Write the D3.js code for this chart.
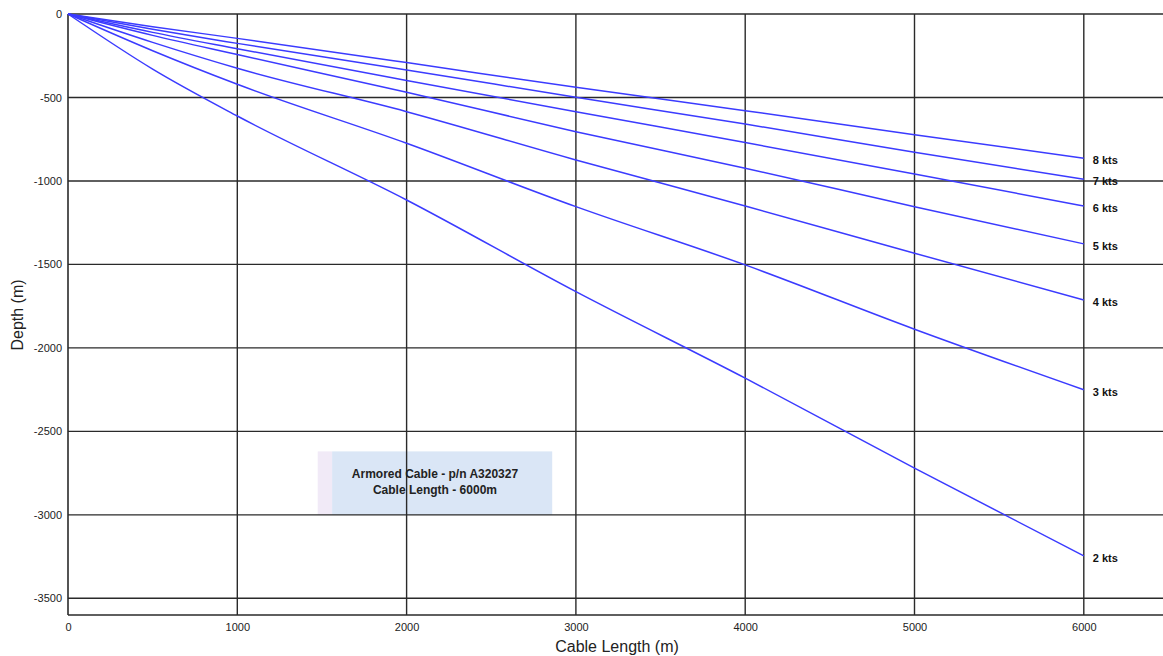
<!DOCTYPE html>
<html>
<head>
<meta charset="utf-8">
<script src="https://cdn.jsdelivr.net/npm/d3@7"></script>
<style>
  html, body { margin: 0; padding: 0; background: #fff; }
  svg { display: block; font-family: "Liberation Sans", Arial, Helvetica, sans-serif; }
</style>
</head>
<body>
<svg id="chart" width="1163" height="656"></svg>
<script>
// ---- data ----
const cableLength = [0, 500, 1000, 2000, 3000, 4000, 5000, 6000];
const depth8kts = [0, -76, -146, -291, -439, -579, -723, -864];
const depth7kts = [0, -92, -176, -335, -499, -659, -828, -990];
const depth6kts = [0, -110, -208, -398, -585, -770, -958, -1150];
const depth5kts = [0, -128, -243, -469, -705, -924, -1154, -1377];
const depth4kts = [0, -170, -325, -585, -874, -1150, -1433, -1713];
const depth3kts = [0, -220, -421, -774, -1154, -1503, -1888, -2251];
const depth2kts = [0, -330, -611, -1114, -1663, -2181, -2720, -3246];
const seriesNames = ["8 kts", "7 kts", "6 kts", "5 kts", "4 kts", "3 kts", "2 kts"];
const xTicks = [0, 1000, 2000, 3000, 4000, 5000, 6000];
const yTicks = [0, -500, -1000, -1500, -2000, -2500, -3000, -3500];
const noteLines = ["Armored Cable - p/n A320327", "Cable Length - 6000m"];
const noteBox = { x0: 1475, xb: 1560, x1: 2860, y0: -2620, y1: -3000 };

const seriesValues = [depth8kts, depth7kts, depth6kts, depth5kts, depth4kts, depth3kts, depth2kts];
const series = seriesNames.map((name, i) => ({
  name,
  points: cableLength.map((x, j) => ({ x, y: seriesValues[i][j] }))
}));

// ---- layout ----
const svg = d3.select("#chart");
const padLeft = 68, padTop = 14, plotBottom = 615, plotRight = 1163;
const x = d3.scaleLinear().domain([0, 6500]).range([padLeft, padLeft + 6.5 * 169.3]);
const y = d3.scaleLinear().domain([0, -3600]).range([padTop, plotBottom]);

// note box (behind grid)
svg.append("rect")
  .attr("x", x(noteBox.x0)).attr("y", y(noteBox.y0))
  .attr("width", x(noteBox.xb) - x(noteBox.x0)).attr("height", y(noteBox.y1) - y(noteBox.y0))
  .attr("fill", "#f1eaf7");
svg.append("rect")
  .attr("x", x(noteBox.xb)).attr("y", y(noteBox.y0))
  .attr("width", x(noteBox.x1) - x(noteBox.xb))
  .attr("height", y(noteBox.y1) - y(noteBox.y0))
  .attr("fill", "#dae6f6");

// grid
const gridColor = "#2a2a2a";
svg.append("g").selectAll("line").data(xTicks.filter(d => d > 0)).join("line")
  .attr("x1", d => x(d)).attr("x2", d => x(d))
  .attr("y1", padTop).attr("y2", plotBottom)
  .attr("stroke", gridColor).attr("stroke-width", 1.4);
svg.append("g").selectAll("line").data(yTicks.filter(d => d < 0)).join("line")
  .attr("x1", padLeft).attr("x2", plotRight)
  .attr("y1", d => y(d)).attr("y2", d => y(d))
  .attr("stroke", gridColor).attr("stroke-width", 1.4);

// frame
svg.append("line").attr("x1", padLeft).attr("x2", plotRight).attr("y1", padTop).attr("y2", padTop)
  .attr("stroke", gridColor).attr("stroke-width", 1.6);
svg.append("line").attr("x1", padLeft).attr("x2", plotRight).attr("y1", plotBottom).attr("y2", plotBottom)
  .attr("stroke", gridColor).attr("stroke-width", 1.6);
svg.append("line").attr("x1", padLeft).attr("x2", padLeft).attr("y1", padTop).attr("y2", plotBottom)
  .attr("stroke", gridColor).attr("stroke-width", 1.6);

// axes (labels only)
const fmt = d => String(d);
const xAxis = svg.append("g").attr("transform", `translate(0,${plotBottom})`)
  .call(d3.axisBottom(x).tickValues(xTicks).tickSize(0).tickPadding(8).tickFormat(fmt));
xAxis.select(".domain").remove();
xAxis.selectAll("text").attr("font-size", 11).attr("fill", "#222").attr("font-family", "Liberation Sans, Arial, sans-serif");

const yAxis = svg.append("g").attr("transform", `translate(${padLeft},0)`)
  .call(d3.axisLeft(y).tickValues(yTicks).tickSize(0).tickPadding(6).tickFormat(fmt));
yAxis.select(".domain").remove();
yAxis.selectAll("text").attr("font-size", 11).attr("fill", "#222").attr("font-family", "Liberation Sans, Arial, sans-serif");

// axis titles
svg.append("text").attr("x", 617).attr("y", 652).attr("text-anchor", "middle")
  .attr("font-size", 16).attr("fill", "#222").text("Cable Length (m)");
svg.append("text").attr("transform", "translate(23,315) rotate(-90)").attr("text-anchor", "middle")
  .attr("font-size", 16).attr("fill", "#222").text("Depth (m)");

// lines
const line = d3.line().x(d => x(d.x)).y(d => y(d.y)).curve(d3.curveMonotoneX);
svg.append("g").selectAll("path").data(series).join("path")
  .attr("d", d => line(d.points))
  .attr("fill", "none").attr("stroke", "#3b3bff").attr("stroke-width", 1.5);

// series labels
svg.append("g").selectAll("text").data(series).join("text")
  .attr("x", d => x(d.points[d.points.length - 1].x) + 9)
  .attr("y", d => y(d.points[d.points.length - 1].y) + 6)
  .attr("font-size", 11).attr("font-weight", "bold").attr("fill", "#111")
  .text(d => d.name);

// note text
const noteCx = (x(noteBox.x0) + x(noteBox.x1)) / 2;
svg.append("g").selectAll("text").data(noteLines).join("text")
  .attr("x", noteCx).attr("y", (d, i) => y(noteBox.y0) + 27 + i * 16)
  .attr("text-anchor", "middle").attr("font-size", 12).attr("font-weight", "bold").attr("fill", "#222")
  .text(d => d);
</script>
</body>
</html>
